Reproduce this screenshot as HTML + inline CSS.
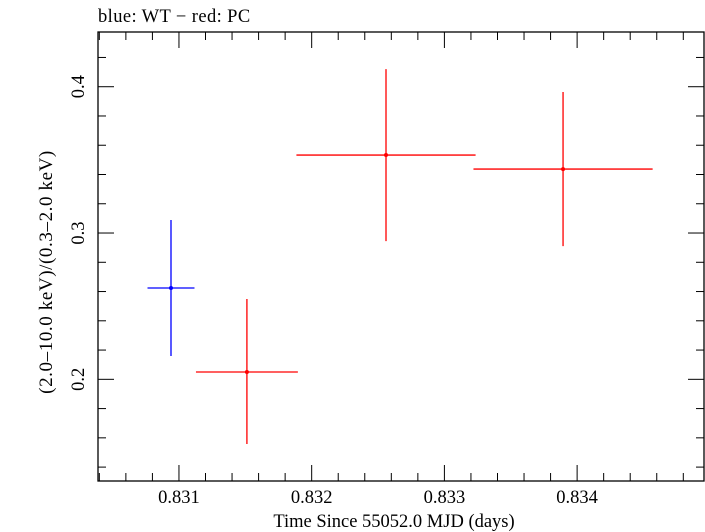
<!DOCTYPE html>
<html><head><meta charset="utf-8"><style>
body{margin:0;background:#fff;}
svg{display:block;font-family:"Liberation Serif",serif;}
</style></head><body>
<svg id="c" width="705" height="532"></svg>
<script>
const wtX=[0.83094], wtXErr=[0.000177], wtY=[0.2624], wtYLo=[0.2159], wtYHi=[0.3089];
const pcX=[0.831512,0.83256,0.833894], pcXErr=[0.000384,0.000675,0.000675];
const pcY=[0.205,0.3533,0.3437], pcYLo=[0.1558,0.2945,0.291], pcYHi=[0.2549,0.412,0.3964];
const xTicks=[0.831,0.832,0.833,0.834], yTicks=[0.2,0.3,0.4];
const X0=98,X1=704,Y0=481,Y1=32, xmin=0.83039,xmax=0.834956,ymin=0.1305,ymax=0.4374;
const sx=v=>X0+(v-xmin)/(xmax-xmin)*(X1-X0);
const sy=v=>Y0-(v-ymin)/(ymax-ymin)*(Y0-Y1);
const svg=document.getElementById('c');const NS='http://www.w3.org/2000/svg';
function mk(t,a,p){const e=document.createElementNS(NS,t);for(const k in a)e.setAttribute(k,a[k]);(p||svg).appendChild(e);return e;}
const frame=mk('rect',{x:X0,y:Y1,width:X1-X0,height:Y0-Y1,fill:'none',stroke:'#000','stroke-width':1.3});


for(let v=0.8304;v<=xmax;v+=0.0002){const x=sx(v);const major=Math.abs(v*1000-Math.round(v*1000))<1e-6;const L=major?16:8;
 mk('line',{x1:x,x2:x,y1:Y0,y2:Y0-L,stroke:'#000'});mk('line',{x1:x,x2:x,y1:Y1,y2:Y1+L,stroke:'#000'});}
for(let v=0.14;v<=ymax;v+=0.02){const y=sy(v);const major=Math.abs(v*10-Math.round(v*10))<1e-6;const L=major?16:8;
 mk('line',{x1:X0,x2:X0+L,y1:y,y2:y,stroke:'#000'});mk('line',{x1:X1,x2:X1-L,y1:y,y2:y,stroke:'#000'});}
xTicks.forEach(v=>{const t=mk('text',{x:sx(v),y:503,'text-anchor':'middle','font-size':18.5});t.textContent=v.toFixed(3);
 
 });
yTicks.forEach(v=>{const y=sy(v);const t=mk('text',{x:0,y:0,'text-anchor':'middle','font-size':18.5,transform:`translate(84,${y}) rotate(-90)`});t.textContent=v.toFixed(1);
 
 });
const xt=mk('text',{x:394,y:527,'text-anchor':'middle','font-size':18.5});xt.textContent='Time Since 55052.0 MJD (days)';


const yt=mk('text',{x:0,y:0,'text-anchor':'middle','font-size':19,'letter-spacing':'0.6',transform:'translate(52,272) rotate(-90)'});yt.textContent='(2.0\u201310.0 keV)/(0.3\u20132.0 keV)';


const tt=mk('text',{x:98,y:22,'font-size':18.5,'letter-spacing':'0.4'});tt.textContent='blue: WT \u2212 red: PC';


function series(xs,xe,ys,lo,hi,col,name){xs.forEach((v,i)=>{const g=mk('g',{});
 
 
 mk('line',{x1:sx(v-xe[i]),x2:sx(v+xe[i]),y1:sy(ys[i]),y2:sy(ys[i]),stroke:col,'stroke-width':1.3},g);
 mk('line',{x1:sx(v),x2:sx(v),y1:sy(lo[i]),y2:sy(hi[i]),stroke:col,'stroke-width':1.3},g);
 mk('circle',{cx:sx(v),cy:sy(ys[i]),r:2,fill:col},g);});}
series(wtX,wtXErr,wtY,wtYLo,wtYHi,'#0000ff','wt');
series(pcX,pcXErr,pcY,pcYLo,pcYHi,'#ff0000','pc');
</script></body></html>
